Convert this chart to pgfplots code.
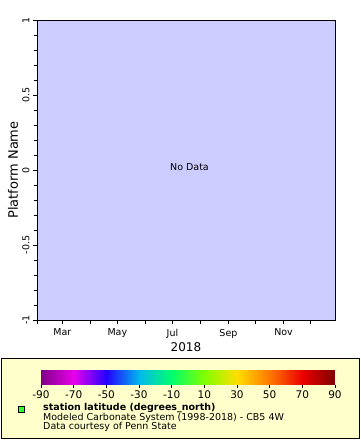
\documentclass[border=0pt]{standalone}
\usepackage{fontspec}
\setmainfont{DejaVu Sans}
\usepackage{pgfplots}
\pgfplotsset{compat=1.18}
\definecolor{plotbg}{RGB}{204,204,255}
\definecolor{legbg}{RGB}{255,255,204}
\definecolor{mkgreen}{RGB}{51,255,51}
\begin{document}
\begin{tikzpicture}[x=1pt,y=1pt]
\useasboundingbox (0,0) rectangle (360,440);
\fill[white] (0,0) rectangle (360,440);
\begin{axis}[at={(37pt,120pt)}, anchor=south west, scale only axis,
  width=298pt, height=300pt,
  xmin=31, xmax=361, ymin=-1, ymax=1,
  axis background/.style={fill=plotbg},
  xtick={31,59,90,120,151,181,212,243,273,304,334},
  xticklabels={,Mar,,May,,Jul,,Sep,,Nov,},
  ytick={-1,-0.5,0,0.5,1},
  yticklabels={-1,-0.5,0,0.5,1},
  minor ytick={-0.9,-0.8,-0.7,-0.6,-0.4,-0.3,-0.2,-0.1,0.1,0.2,0.3,0.4,0.6,0.7,0.8,0.9},
  tick align=outside, xtick pos=bottom, ytick pos=left,
  major tick length=4pt, minor tick length=3pt,
  every tick/.style={black, line width=0.8pt},
  axis line style={line width=0.8pt},
  xticklabel style={font=\fontsize{9.5}{10}\selectfont, yshift=-1.5pt},
  yticklabel style={rotate=90, anchor=south, font=\fontsize{9.5}{10}\selectfont},
  xlabel={2018},
  xlabel style={font=\fontsize{12}{12}\selectfont, at={(axis description cs:0.5,-0.09)}, anchor=center},
  ylabel={Platform Name},
  ylabel style={font=\fontsize{13}{13}\selectfont, at={(axis description cs:-0.0805,0.5)}, anchor=center},
]
\end{axis}
\node[font=\fontsize{9.5}{10}\selectfont] at (189.5,273) {No Data};
% legend box
\draw[fill=legbg, line width=0.8pt] (1,2) rectangle (359,82);
\begin{axis}[at={(41pt,64pt)}, anchor=south west, scale only axis,
  width=294pt, height=14pt, hide axis,
  xmin=-90, xmax=90, ymin=0, ymax=1,
  colormap={erd}{rgb255=(128,0,136) rgb255=(232,0,236) rgb255=(36,0,255) rgb255=(0,184,238) rgb255=(0,255,110) rgb255=(128,255,0) rgb255=(255,222,0) rgb255=(255,120,0) rgb255=(235,0,0) rgb255=(128,0,0)},
  point meta min=-90, point meta max=90,
  colorbar horizontal,
  colorbar style={at={(parent axis.south west)}, anchor=south west,
    scale only axis, width=294pt, height=14pt,
    axis line style={draw=none},
    xtick={-90,-70,-50,-30,-10,10,30,50,70,90},
    xticklabels={-90,-70,-50,-30,-10,10,30,50,70,90},
    xtick pos=bottom, tick align=outside, major tick length=3pt,
    every tick/.style={black, line width=0.8pt},
    xticklabel style={font=\fontsize{10.5}{11}\selectfont},
  },
]
\addplot[draw=none] coordinates {(0,0.5)};
\end{axis}
\node[draw=black, fill=mkgreen, minimum size=6pt, inner sep=0pt, line width=0.8pt] at (21.7,31) {};
\node[anchor=west, inner sep=0pt, font=\fontsize{9.5}{10}\selectfont\bfseries] at (43,32) {station latitude (degrees\_north)};
\node[anchor=west, inner sep=0pt, font=\fontsize{9.5}{10}\selectfont] at (43,22) {Modeled Carbonate System (1998-2018) - CB5 4W};
\node[anchor=west, inner sep=0pt, font=\fontsize{9.5}{10}\selectfont] at (43,13) {Data courtesy of Penn State};
\end{tikzpicture}
\end{document}
